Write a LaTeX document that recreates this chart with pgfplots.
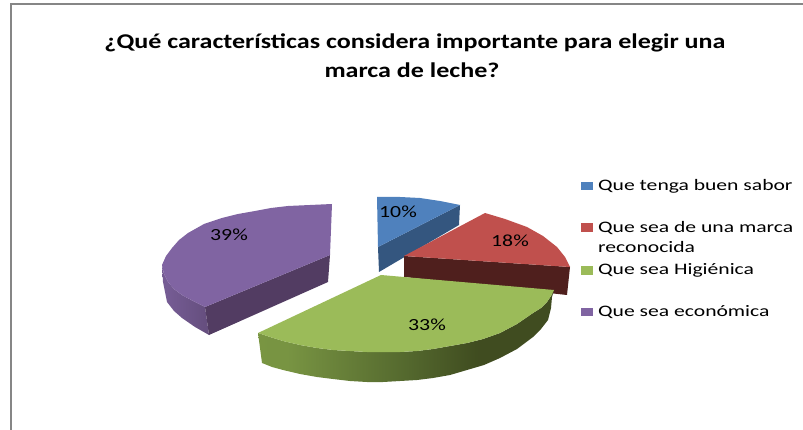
\documentclass[border=0pt]{standalone}
\usepackage{fontspec}
\setmainfont{Carlito}
\newfontfamily\stretched[FakeStretch=1.35]{Carlito}
\newfontfamily\labelfont[FakeStretch=1.28]{Carlito}
\newfontfamily\titlefont[FakeStretch=1.24]{Carlito}
\usepackage{pgfplots}
\pgfplotsset{compat=1.18}
\definecolor{cblue}{HTML}{4F81BD}
\definecolor{cbluedk}{HTML}{34567F}
\definecolor{cred}{HTML}{C0504D}
\definecolor{creddk}{HTML}{4F1F1D}
\definecolor{cgreen}{HTML}{9BBB59}
\definecolor{cpurple}{HTML}{8064A2}
\definecolor{cpurpledk}{HTML}{523C62}
\definecolor{frame}{HTML}{868686}
\pgfdeclarehorizontalshading{greenside}{100bp}{
 rgb(0bp)=(0.49,0.60,0.26);
 rgb(30bp)=(0.47,0.58,0.26);
 rgb(50bp)=(0.33,0.41,0.18);
 rgb(62bp)=(0.25,0.30,0.125);
 rgb(100bp)=(0.25,0.30,0.125)}
\pgfdeclarehorizontalshading{purpleside}{100bp}{
 rgb(0bp)=(0.44,0.35,0.56);
 rgb(30bp)=(0.46,0.36,0.58);
 rgb(70bp)=(0.40,0.31,0.50);
 rgb(100bp)=(0.38,0.29,0.48)}
\begin{document}
\begin{tikzpicture}
\useasboundingbox (0,0) rectangle (803pt,430pt);
\begin{axis}[
  at={(0,0)}, anchor=south west,
  scale only axis, width=803pt, height=430pt,
  xmin=0, xmax=803, ymin=0, ymax=430, y dir=reverse,
  hide axis, clip=true,
  every axis plot/.append style={line width=0pt, draw=none},
]
% frame
\addplot[draw=frame, line width=2pt] coordinates {(10.5,430) (10.5,4.5) (803,4.5)};
% purple slice
\addplot[shading=purpleside] coordinates {(162,265) (163,282) (167,302) (174,311) (182,318) (195,327) (209,335) (205,307) (193,301) (182,295) (174,289) (168,282) (164,274)};
\addplot[fill=cpurpledk] coordinates {(205,307) (330,255) (328,282) (209,335)};
\addplot[fill=cpurple] coordinates {(330,255) (332,204) (310,205) (288,206) (271,208) (255,211) (238,214) (222,218) (204,224) (188,233) (179,240) (172,248) (166,256) (162,265) (164,274) (168,282) (174,289) (182,295) (193,301) (205,307)};
% blue slice
\addplot[fill=cbluedk] coordinates {(378,247) (460,205) (459,225) (379,272)};
\addplot[fill=cblue] coordinates {(378,247) (377,197) (400,197) (420,198) (440,201) (460,205)};
% red slice
\addplot[fill=creddk] coordinates {(404,256) (570,267) (567,295) (404,277)};
\addplot[fill=cred] coordinates {(404,256) (485,213) (505,219) (527,227) (543,236) (557,247) (565,257) (570,267)};
% green slice
\addplot[shading=greenside] coordinates {(258,333) (270,337) (283,341) (300,345) (317,348) (333,350) (350,351) (367,352) (383,352) (400,352) (417,351) (433,349) (450,346) (467,343) (483,339) (500,333) (517,324) (533,313) (541,308) (547,302) (551,296) (554,290) (552,297) (551,308) (548,320) (541,329) (533,337) (517,349) (500,358) (484,365) (467,370) (450,375) (433,378) (417,380) (400,381) (383,382) (367,382) (350,381) (333,379) (317,377) (300,374) (283,370) (272,367) (262,363)};
\addplot[fill=cgreen] coordinates {(381,275) (554,290) (551,296) (547,302) (541,308) (533,313) (517,324) (500,333) (483,339) (467,343) (450,346) (433,349) (417,351) (400,352) (383,352) (367,352) (350,351) (333,350) (317,348) (300,345) (283,341) (270,337) (258,333)};
% legend swatches
\addplot[fill=cblue] coordinates {(581,182) (593,182) (593,190.5) (581,190.5)};
\addplot[fill=cred] coordinates {(581,223.5) (593,223.5) (593,232) (581,232)};
\addplot[fill=cgreen] coordinates {(581,266) (593,266) (593,275) (581,275)};
\addplot[fill=cpurple] coordinates {(581,308) (593,308) (593,316) (581,316)};
% title
\node[font=\titlefont\bfseries\fontsize{21}{25}\selectfont] at (axis cs:415,43) {¿Qué características considera importante para elegir una};
\node[font=\titlefont\bfseries\fontsize{21}{25}\selectfont] at (axis cs:412,70) {marca de leche?};
% legend text
\foreach \y/\t in {186/Que tenga buen sabor,228/Que sea de una marca,247/reconocida,270/Que sea Higiénica,312/Que sea económica}{
  \edef\tmp{\noexpand\node[anchor=west, inner sep=0pt, font=\noexpand\stretched\noexpand\fontsize{16}{18}\noexpand\selectfont] at (axis cs:598,\y) {\t};}\tmp
}
% data labels
\node[font=\labelfont\fontsize{17}{20}\selectfont] at (axis cs:398,212) {10\%};
\node[font=\labelfont\fontsize{17}{20}\selectfont] at (axis cs:510,241) {18\%};
\node[font=\labelfont\fontsize{17}{20}\selectfont] at (axis cs:427,325) {33\%};
\node[font=\labelfont\fontsize{17}{20}\selectfont] at (axis cs:229,235) {39\%};
\end{axis}
\end{tikzpicture}
\end{document}
